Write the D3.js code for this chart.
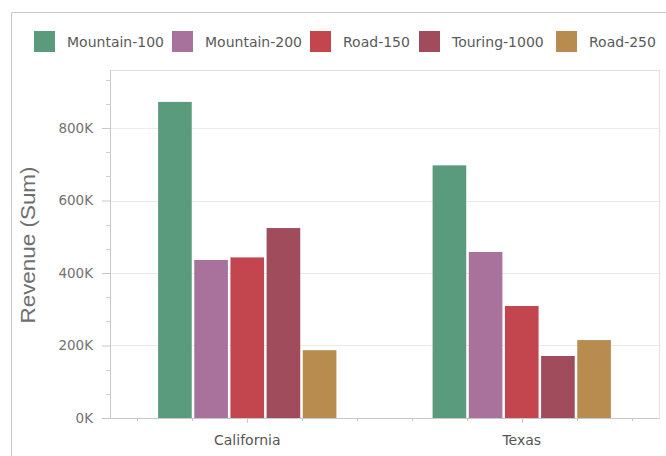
<!DOCTYPE html>
<html>
<head>
<meta charset="utf-8">
<script src="https://cdn.jsdelivr.net/npm/d3@7/dist/d3.min.js"></script>
<style>
  html, body { margin: 0; padding: 0; background: #fff; }
  svg { display: block; }
</style>
</head>
<body>
<svg id="chart" width="666" height="456"></svg>
<script>
const categories = ["California", "Texas"];
const seriesNames = ["Mountain-100", "Mountain-200", "Road-150", "Touring-1000", "Road-250"];
const seriesColors = ["#5b9b7d", "#a8729c", "#c3454d", "#a04c5d", "#b88b4f"];
const californiaValues = [872000, 436000, 443000, 524000, 187000];
const texasValues = [697000, 458000, 309000, 171000, 215000];
const yTickValues = [0, 200000, 400000, 600000, 800000];
const yTickLabels = ["0K", "200K", "400K", "600K", "800K"];
const yTitle = "Revenue (Sum)";

const valuesByCategory = [californiaValues, texasValues];
const data = categories.map((c, i) => ({
  category: c,
  values: seriesNames.map((s, j) => ({ series: s, value: valuesByCategory[i][j] }))
}));

const svg = d3.select("#chart");
const font = "'DejaVu Sans', Verdana, sans-serif";

const plot = { left: 110, right: 659, top: 70, bottom: 418 };

// outer frame
svg.append("path")
  .attr("d", `M11.5,456 L11.5,12.5 L666,12.5`)
  .attr("fill", "none").attr("stroke", "#c8c8c8").attr("stroke-width", 1);

// plot frame
svg.append("rect")
  .attr("x", plot.left + 0.5).attr("y", plot.top + 0.5)
  .attr("width", plot.right - plot.left).attr("height", plot.bottom - plot.top)
  .attr("fill", "#fff").attr("stroke", "#e2e2e2");

const x0 = d3.scaleBand().domain(categories).range([plot.left, plot.right]).padding(0);
const x1 = d3.scaleBand().domain(seriesNames).range([0, x0.bandwidth()])
  .paddingInner(0.07).paddingOuter(1.33);
const y = d3.scaleLinear().domain([0, 960000]).range([plot.bottom, plot.top]);
const color = d3.scaleOrdinal().domain(seriesNames).range(seriesColors);

// gridlines
svg.append("g").selectAll("line").data(yTickValues.filter(v => v > 0)).join("line")
  .attr("x1", plot.left).attr("x2", plot.right)
  .attr("y1", d => Math.round(y(d)) + 0.5).attr("y2", d => Math.round(y(d)) + 0.5)
  .attr("stroke", "#ebebeb");

// y axis
const minorY = d3.range(0, 960000, 200000 / 3).filter((v, i) => i % 3 !== 0);
const yAxisG = svg.append("g").attr("transform", `translate(${plot.left},0)`);
yAxisG.call(d3.axisLeft(y).tickValues(yTickValues)
  .tickFormat((d, i) => yTickLabels[i]).tickSize(8).tickPadding(9))
  .call(g => g.select(".domain").attr("stroke", "#c8c8c8").attr("d", `M0.5,${plot.top}V${plot.bottom}`))
  .call(g => g.selectAll(".tick line").attr("stroke", "#c8c8c8"))
  .call(g => g.selectAll(".tick text").attr("fill", "#727272")
    .style("font-family", font).style("font-size", "13.5px"));
yAxisG.append("g").selectAll("line").data(minorY).join("line")
  .attr("x1", -4).attr("x2", 0)
  .attr("y1", d => Math.round(y(d)) + 0.5).attr("y2", d => Math.round(y(d)) + 0.5)
  .attr("stroke", "#d0d0d0");

// y title
svg.append("text")
  .attr("transform", `translate(35,245) rotate(-90)`)
  .attr("text-anchor", "middle")
  .attr("fill", "#6e6e6e")
  .style("font-family", "'Liberation Sans', Arial, sans-serif")
  .style("font-size", "21px")
  .attr("textLength", 157).attr("lengthAdjust", "spacingAndGlyphs")
  .text(yTitle);

// bars
const groups = svg.append("g").selectAll("g").data(data).join("g")
  .attr("transform", d => `translate(${x0(d.category)},0)`);
groups.selectAll("rect").data(d => d.values).join("rect")
  .attr("x", d => x1(d.series))
  .attr("y", d => y(d.value))
  .attr("width", x1.bandwidth())
  .attr("height", d => y(0) - y(d.value))
  .attr("fill", d => color(d.series));

// x axis
const xAxisG = svg.append("g").attr("transform", `translate(0,${plot.bottom})`);
xAxisG.append("line").attr("x1", plot.left).attr("x2", plot.right)
  .attr("y1", 0.5).attr("y2", 0.5).attr("stroke", "#c8c8c8");
const xPos = d3.scaleLinear().domain([-0.5, categories.length - 0.5]).range([plot.left, plot.right]);
const xTicks = d3.range(-0.4, categories.length - 0.5, 0.2).map(v => Math.round(v * 10) / 10);
xAxisG.selectAll("line.tk").data(xTicks).join("line").attr("class", "tk")
  .attr("x1", d => Math.round(xPos(d)) + 0.5).attr("x2", d => Math.round(xPos(d)) + 0.5)
  .attr("y1", 0).attr("y2", d => Number.isInteger(d) ? 5 : 3)
  .attr("stroke", "#c8c8c8");
xAxisG.selectAll("text").data(categories).join("text")
  .attr("x", d => x0(d) + x0.bandwidth() / 2)
  .attr("y", 27)
  .attr("text-anchor", "middle")
  .attr("fill", "#555")
  .style("font-family", font).style("font-size", "14px")
  .text(d => d);

// legend
const legendX = [34, 172, 310, 419, 556];
const legend = svg.append("g");
const items = legend.selectAll("g").data(seriesNames).join("g")
  .attr("transform", (d, i) => `translate(${legendX[i]},31)`);
items.append("rect").attr("width", 21).attr("height", 21)
  .attr("fill", d => color(d));
items.append("text").attr("x", 33).attr("y", 15.5)
  .attr("fill", "#5a5a5a")
  .style("font-family", font).style("font-size", "14px")
  .text(d => d);
</script>
</body>
</html>
